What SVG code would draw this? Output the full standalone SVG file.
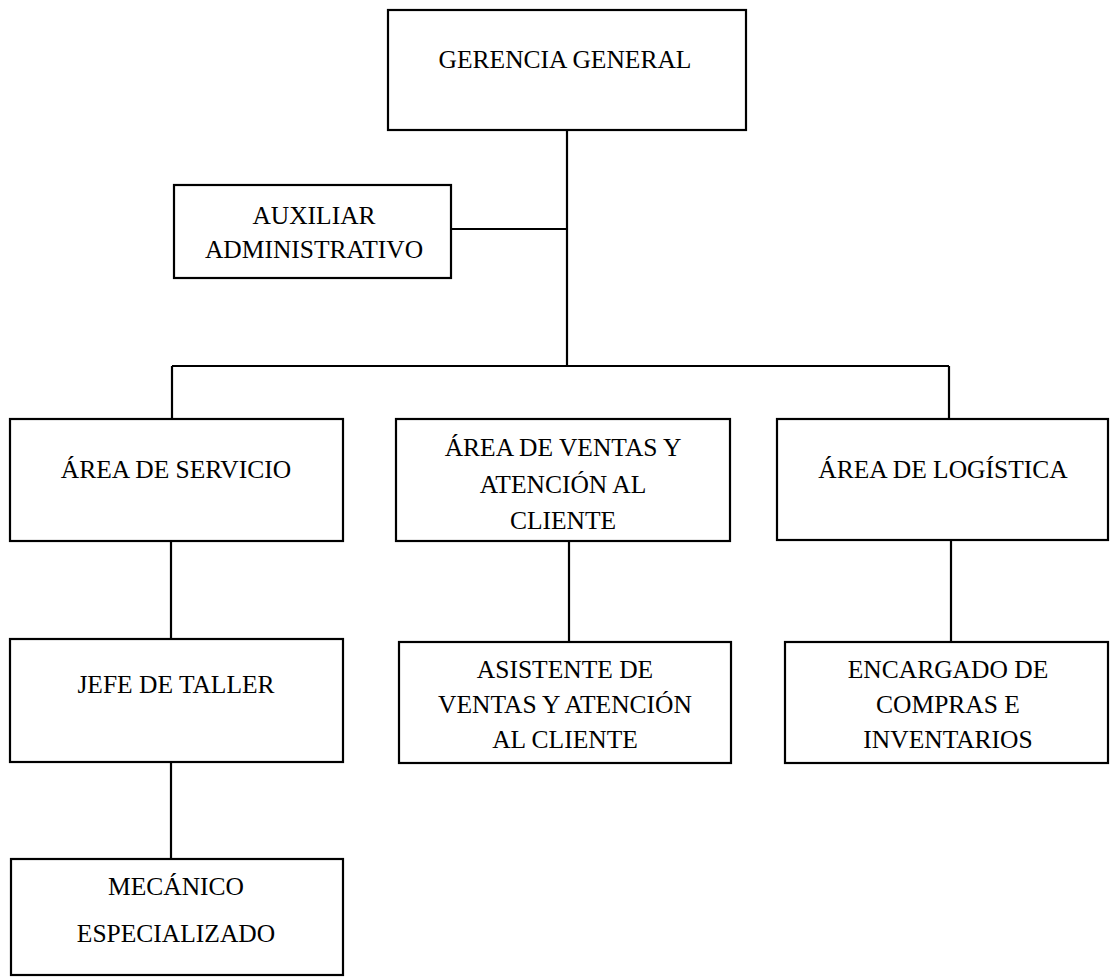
<svg xmlns="http://www.w3.org/2000/svg" width="1110" height="979" viewBox="0 0 1110 979">
<style>
.box{fill:#fff;stroke:#000;stroke-width:2.2}
.ln{stroke:#000;stroke-width:2.2;fill:none}
text{font-family:"Liberation Serif","Times New Roman",serif;font-size:25.5px;fill:#000;text-anchor:middle}
</style>
<rect width="1110" height="979" fill="#fff"/>
<g id="connectors">
<path class="ln" d="M567 130V366"/>
<path class="ln" d="M451 229H567"/>
<path class="ln" d="M172 366H949"/>
<path class="ln" d="M172 366V419M949 366V419"/>
<path class="ln" d="M171 541V639M171 762V859"/>
<path class="ln" d="M569 541V642M951 540V642"/>
</g>
<g id="gerencia"><rect class="box" x="388" y="10" width="358" height="120"/><text x="565" y="68">GERENCIA GENERAL</text></g>
<g id="auxiliar"><rect class="box" x="174" y="185" width="277" height="93"/><text x="314" y="224">AUXILIAR</text><text x="314" y="258">ADMINISTRATIVO</text></g>
<g id="servicio"><rect class="box" x="10" y="419" width="333" height="122"/><text x="176" y="478">ÁREA DE SERVICIO</text></g>
<g id="ventas"><rect class="box" x="396" y="419" width="334" height="122"/><text x="563" y="456">ÁREA DE VENTAS Y</text><text x="563" y="493">ATENCIÓN AL</text><text x="563" y="529">CLIENTE</text></g>
<g id="logistica"><rect class="box" x="777" y="419" width="331" height="121"/><text x="943" y="478">ÁREA DE LOGÍSTICA</text></g>
<g id="jefe"><rect class="box" x="10" y="639" width="333" height="123"/><text x="176" y="693">JEFE DE TALLER</text></g>
<g id="asistente"><rect class="box" x="399" y="642" width="332" height="121"/><text x="565" y="678">ASISTENTE DE</text><text x="565" y="713">VENTAS Y ATENCIÓN</text><text x="565" y="748">AL CLIENTE</text></g>
<g id="encargado"><rect class="box" x="785" y="642" width="323" height="121"/><text x="948" y="678">ENCARGADO DE</text><text x="948" y="713">COMPRAS E</text><text x="948" y="748">INVENTARIOS</text></g>
<g id="mecanico"><rect class="box" x="11" y="859" width="332" height="116"/><text x="176" y="895">MECÁNICO</text><text x="176" y="942">ESPECIALIZADO</text></g>
</svg>
